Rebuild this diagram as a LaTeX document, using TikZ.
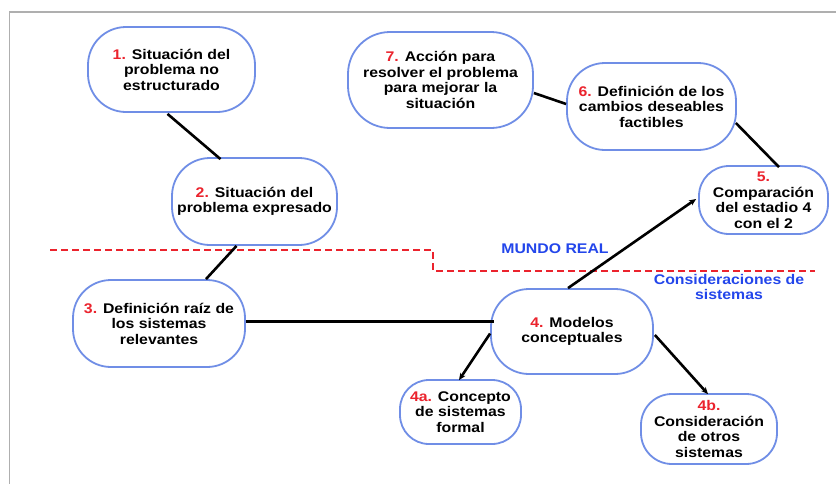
\documentclass[tikz,border=0pt]{standalone}
\usepackage{fontspec}
\setmainfont{Liberation Sans}[FakeStretch=1.13]
\usetikzlibrary{arrows.meta,calc}
\definecolor{nodeblue}{RGB}{112,142,230}
\definecolor{numred}{RGB}{235,35,45}
\definecolor{lblblue}{RGB}{35,70,235}
\definecolor{framegray}{RGB}{175,175,175}
\tikzset{
  stepbox/.style={draw=nodeblue, line width=1.8pt, fill=white, align=center,
    inner sep=0pt, font=\fontsize{14}{15.5}\selectfont\bfseries},
  link/.style={line width=2.6pt, black},
  arrlink/.style={link, -{Stealth[length=7pt,width=6pt]}},
  num/.style={text=numred},
}
\newcommand{\nm}[1]{\textcolor{numred}{#1}}
\begin{document}
\begin{tikzpicture}[x=1pt,y=-1pt]
\useasboundingbox (0,0) rectangle (836,483);
\fill[white] (0,0) rectangle (836,483);
\draw[framegray, line width=1.6pt] (9.5,12) rectangle (860,510);

% boundary line
\draw[numred, line width=1.5pt, dash pattern=on 7pt off 4pt]
  (50,250) -- (433,250) -- (433,271) -- (815,271);
\node[text=lblblue, font=\fontsize{14}{15.5}\selectfont\bfseries] (mr) at (555,249) {MUNDO REAL};
\node[text=lblblue, align=center, font=\fontsize{14}{15.5}\selectfont\bfseries] (cs) at (729,287) {Consideraciones de\\sistemas};

% nodes
\node[stepbox, minimum width=167pt, minimum height=85pt, rounded corners=38pt] (n1) at (171.5,69.5)
  {\nm{1.} Situación del\\problema no\\estructurado};
\node[stepbox, minimum width=165pt, minimum height=87pt, rounded corners=38pt] (n2) at (254.5,201.5)
  {\nm{2.} Situación del\\problema expresado};
\node[stepbox, minimum width=172pt, minimum height=87pt, rounded corners=38pt] (n3) at (159,323.5)
  {\nm{3.} Definición raíz de\\los sistemas\\relevantes};
\node[stepbox, minimum width=162pt, minimum height=85pt, rounded corners=38pt] (n4) at (572,331.5)
  {\nm{4.} Modelos\\conceptuales};
\node[stepbox, minimum width=121pt, minimum height=64pt, rounded corners=29pt] (n4a) at (460.5,412)
  {\nm{4a.} Concepto\\de sistemas\\formal};
\node[stepbox, minimum width=136pt, minimum height=70pt, rounded corners=31pt] (n4b) at (709,429)
  {\nm{4b.}\\Consideración\\de otros\\sistemas};
\node[stepbox, minimum width=129pt, minimum height=68pt, rounded corners=30pt] (n5) at (763.5,200)
  {\nm{5.}\\Comparación\\del estadio 4\\con el 2};
\node[stepbox, minimum width=169pt, minimum height=87pt, rounded corners=38pt] (n6) at (651.5,106.5)
  {\nm{6.} Definición de los\\cambios deseables\\factibles};
\node[stepbox, minimum width=185pt, minimum height=96pt, rounded corners=42pt] (n7) at (440.5,80)
  {\nm{7.} Acción para\\resolver el problema\\para mejorar la\\situación};

% connectors
\draw[link] ($(n1.south)+(-4,1)$) -- ($(n2.north)+(-34,2)$);
\draw[link] ($(n2.south)+(-18,0)$) -- ($(n3.north)+(47,0)$);
\draw[link] ($(n3.east)+(0,-2)$) -- ($(n4.west)+(4,-10)$);
\draw[arrlink] ($(n4.west)+(0,2)$) -- ($(n4a.north)+(-1.5,1)$);
\draw[arrlink] ($(n4.east)+(1,3.5)$) -- ($(n4b.north)+(-1,1)$);
\draw[arrlink] ($(n4.north)+(-4,0)$) -- ($(n5.west)+(-2,-1)$);
\draw[link] ($(n5.north)+(15.5,2)$) -- ($(n6.east)+(-1,16.5)$);
\draw[link] ($(n6.west)+(0,-2.5)$) -- ($(n7.east)+(0,13)$);
\end{tikzpicture}
\end{document}
